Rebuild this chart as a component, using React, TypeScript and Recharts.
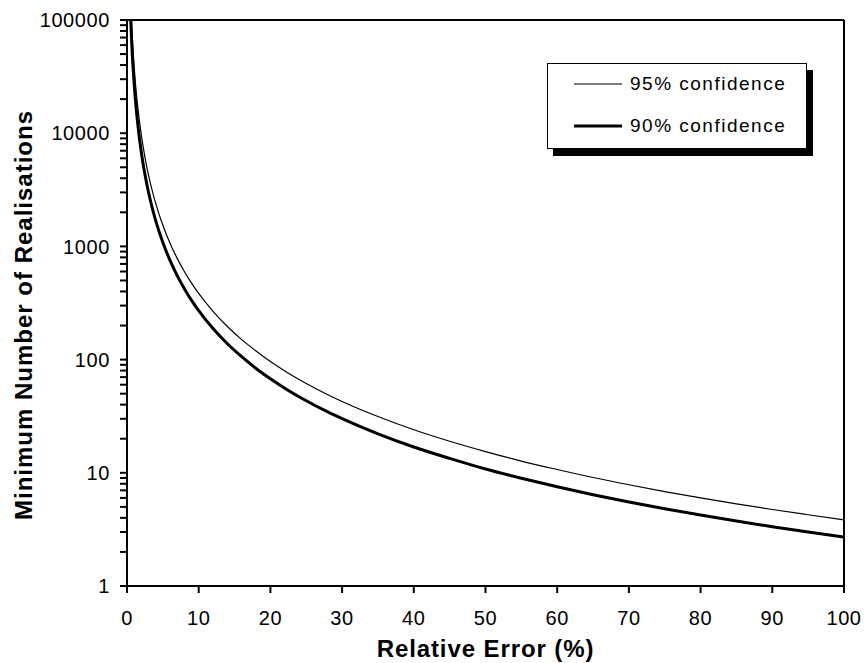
import { Line, LineChart, ReferenceLine, XAxis, YAxis } from "recharts";

// relative error (%) and minimum number of realisations
const errorPct = [
  0.5, 0.6, 0.7, 0.8, 1, 1.25, 1.5, 2, 2.5, 3, 3.5, 4, 5, 6, 7, 8, 9, 10, 12, 14, 16, 18, 20,
  22, 25, 28, 30, 35, 40, 45, 50, 55, 60, 65, 70, 75, 80, 85, 90, 95, 100,
];
const conf95 = [
  153664, 106711, 78400, 60025, 38416, 24586, 17074, 9604, 6147, 4268, 3136, 2401, 1537, 1067,
  784, 600, 474, 384, 267, 196, 150, 119, 96.0, 79.4, 61.5, 49.0, 42.7, 31.4, 24.0, 19.0, 15.4,
  12.7, 10.7, 9.09, 7.84, 6.83, 6.0, 5.32, 4.74, 4.26, 3.84,
];
const conf90 = [
  108240, 75167, 55224, 42281, 27060, 17318, 12027, 6765, 4330, 3007, 2209, 1691, 1082, 752, 552,
  423, 334, 271, 188, 138, 106, 83.5, 67.7, 55.9, 43.3, 34.5, 30.1, 22.1, 16.9, 13.4, 10.8, 8.95,
  7.52, 6.4, 5.52, 4.81, 4.23, 3.75, 3.34, 3.0, 2.71,
];

const xTicks = [0, 10, 20, 30, 40, 50, 60, 70, 80, 90, 100];
const yMajor = [1, 10, 100, 1000, 10000, 100000];
const yMinor = yMajor
  .slice(0, -1)
  .flatMap((m) => [2 * m, 3 * m, 4 * m, 5 * m, 6 * m, 7 * m, 8 * m, 9 * m]);

const series = [
  { key: "c95", name: "95% confidence", width: 1.2 },
  { key: "c90", name: "90% confidence", width: 3 },
];

const data = errorPct.map((e, i) => ({ e, c95: conf95[i], c90: conf90[i] }));

const FONT = '"Liberation Sans", Arial, sans-serif';
const tickStyle = { fill: "#000", fontSize: 20, fontFamily: FONT, letterSpacing: 0.6 };
// y tick marks stick out ~7px left of the axis (plot is ~717px wide for 0..100)
const Y_TICK_LEN = (100 * 7) / 717;

function LegendBox() {
  return (
    <div
      style={{
        position: "absolute",
        left: 547,
        top: 63,
        width: 260,
        height: 86,
        boxSizing: "border-box",
        border: "1px solid #000",
        background: "#fff",
        boxShadow: "6px 7px 0 0 #000",
        paddingTop: 8,
        display: "flex",
        flexDirection: "column",
        gap: 18,
        fontFamily: FONT,
      }}
    >
      {series.map((s) => (
        <div key={s.key} style={{ display: "flex", alignItems: "center", height: 24 }}>
          <svg width={48} height={24} style={{ marginLeft: 26 }}>
            <line x1={0} x2={48} y1={12} y2={12} stroke="#000" strokeWidth={s.width} />
          </svg>
          <span style={{ marginLeft: 8, fontSize: 19, letterSpacing: 1.5, color: "#000" }}>
            {s.name}
          </span>
        </div>
      ))}
    </div>
  );
}

export default function App() {
  return (
    <div style={{ position: "absolute", left: 0, top: 0, width: 864, height: 663, background: "#fff" }}>
      <LineChart width={864} height={663} data={data} margin={{ top: 20, right: 20, left: 0, bottom: 0 }}>
        <XAxis
          dataKey="e"
          type="number"
          domain={[0, 100]}
          ticks={xTicks}
          interval={0}
          height={77}
          tickSize={7}
          tickMargin={18}
          axisLine={{ stroke: "#000", strokeWidth: 2 }}
          tickLine={{ stroke: "#000", strokeWidth: 2 }}
          tick={tickStyle}
          label={{
            content: ({ viewBox }: any) => (
              <text
                x={viewBox.x + viewBox.width / 2}
                y={viewBox.y + viewBox.height - 6}
                textAnchor="middle"
                fontFamily={FONT}
                fontWeight="bold"
                fontSize={24}
                letterSpacing={0.9}
                fill="#000"
              >
                Relative Error (%)
              </text>
            ),
          }}
        />
        <YAxis
          type="number"
          scale="log"
          domain={[1, 100000]}
          allowDataOverflow
          ticks={yMajor}
          interval={0}
          width={127}
          tickSize={7}
          tickMargin={10}
          axisLine={{ stroke: "#000", strokeWidth: 2 }}
          tickLine={{ stroke: "#000", strokeWidth: 2 }}
          tick={tickStyle}
          label={{
            content: ({ viewBox }: any) => {
              const cx = viewBox.x + 23;
              const cy = viewBox.y + viewBox.height / 2 + 12;
              return (
                <text
                  x={cx}
                  y={cy}
                  transform={`rotate(-90, ${cx}, ${cy})`}
                  textAnchor="middle"
                  dominantBaseline="central"
                  fontFamily={FONT}
                  fontWeight="bold"
                  fontSize={24}
                  letterSpacing={1}
                  fill="#000"
                >
                  Minimum Number of Realisations
                </text>
              );
            },
          }}
        />
        {/* minor log ticks on the y axis */}
        {yMinor.map((v) => (
          <ReferenceLine
            key={v}
            segment={[
              { x: -Y_TICK_LEN, y: v },
              { x: 0, y: v },
            ]}
            ifOverflow="visible"
            stroke="#000"
            strokeWidth={2}
          />
        ))}
        <ReferenceLine y={100000} stroke="#000" strokeWidth={2} />
        <ReferenceLine x={100} stroke="#000" strokeWidth={2} />
        {series.map((s) => (
          <Line
            key={s.key}
            dataKey={s.key}
            name={s.name}
            type="monotone"
            stroke="#000"
            strokeWidth={s.width}
            dot={false}
            activeDot={false}
            isAnimationActive={false}
          />
        ))}
      </LineChart>
      <LegendBox />
    </div>
  );
}
